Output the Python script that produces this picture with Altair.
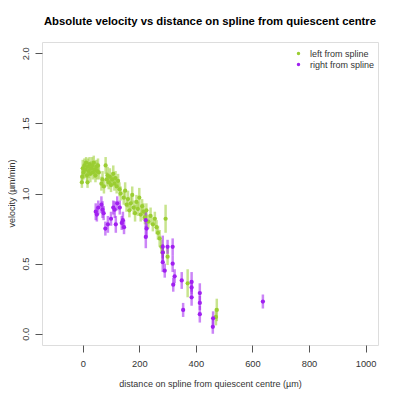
import altair as alt
import pandas as pd

# --- data ---
left_d = [0, 3, 6, 9, 12, 15, 18, 21, 24, 27, 30, 33, 36, 39, 42, 45, 48, 51, 54, 57,
          -3, 17, -2, 66, 70, 75, 81, 85, 88, 92, 96, 100, 104, 108, 112, 116, 120, 125, 130, 134,
          145, 150, 155, 160, 165, 170, 175, 180, 185, 190, 195, 200, 205, 210, 215, 220, 225,
          232, 240, 248, 255, 261, 266, 272, 278, 283, 293, 300, 371, 474, 471]
left_v = [1.18, 1.15, 1.20, 1.17, 1.22, 1.13, 1.19, 1.16, 1.21, 1.14, 1.18, 1.20, 1.15, 1.22, 1.17, 1.13, 1.19, 1.16, 1.20, 1.15,
          1.08, 1.08, 1.12, 1.07, 1.10, 1.05, 1.20, 1.10, 1.13, 1.08, 1.12, 1.06, 1.10, 1.14, 1.07, 1.11, 1.05, 1.09, 1.03, 1.00,
          0.97, 1.02, 0.92, 0.96, 0.88, 0.93, 0.99, 0.90, 0.86, 0.94, 0.89, 0.97, 0.85, 0.91, 0.87, 0.83, 0.88,
          0.80, 0.84, 0.78, 0.82, 0.76, 0.72, 0.68, 0.62, 0.58, 0.82, 0.55, 0.36, 0.17, 0.12]
left_e = [0.06, 0.05, 0.05, 0.06, 0.04, 0.05, 0.06, 0.05, 0.05, 0.06, 0.05, 0.06, 0.05, 0.05, 0.06, 0.05, 0.05, 0.06, 0.05, 0.05,
          0.04, 0.04, 0.05, 0.05, 0.06, 0.05, 0.06, 0.05, 0.06, 0.05, 0.06, 0.05, 0.05, 0.06, 0.05, 0.05, 0.05, 0.05, 0.05, 0.05,
          0.05, 0.06, 0.05, 0.06, 0.05, 0.05, 0.06, 0.05, 0.06, 0.05, 0.05, 0.07, 0.05, 0.05, 0.06, 0.05, 0.05,
          0.05, 0.06, 0.05, 0.05, 0.05, 0.05, 0.06, 0.05, 0.05, 0.10, 0.06, 0.10, 0.08, 0.06]

right_d = [46, 50, 55, 66, 70, 74, 80, 89, 100, 108, 113, 117, 122, 131, 138, 142, 146,
           223, 223, 226, 283, 283, 283, 290, 318, 318, 325, 320, 350, 385, 385, 385,
           414, 414, 414, 461, 460, 637, 355, 300]
right_v = [0.87, 0.85, 0.90, 0.92, 0.885, 0.86, 0.75, 0.78, 0.82, 0.90, 0.885, 0.78, 0.93, 0.90, 0.79, 0.81, 0.76,
           0.81, 0.69, 0.75, 0.62, 0.58, 0.51, 0.45, 0.62, 0.50, 0.41, 0.35, 0.38, 0.37, 0.33, 0.26,
           0.29, 0.22, 0.14, 0.11, 0.05, 0.23, 0.17, 0.62]
right_e = [0.06, 0.05, 0.05, 0.06, 0.06, 0.05, 0.05, 0.06, 0.05, 0.05, 0.06, 0.06, 0.05, 0.05, 0.05, 0.06, 0.05,
           0.07, 0.08, 0.06, 0.08, 0.06, 0.07, 0.05, 0.06, 0.06, 0.05, 0.05, 0.06, 0.07, 0.05, 0.06,
           0.07, 0.05, 0.06, 0.05, 0.05, 0.05, 0.05, 0.05]

series_names = ["left from spline", "right from spline"]
series_colors = ["#9ACD32", "#A020F0"]
x_ticks = [0, 200, 400, 600, 800, 1000]
y_ticks = [0.0, 0.5, 1.0, 1.5, 2.0]

rows = []
for d, v, e in zip(left_d, left_v, left_e):
    rows.append({"series": series_names[0], "d": d, "v": v, "lo": v - e, "hi": v + e})
for d, v, e in zip(right_d, right_v, right_e):
    rows.append({"series": series_names[1], "d": d, "v": v, "lo": v - e, "hi": v + e})
df = pd.DataFrame(rows)

FONT = "Liberation Sans"
FS = 9.3
xscale = alt.Scale(domain=[-144, 1044], nice=False, zero=False)
yscale = alt.Scale(domain=[-0.08, 2.08], nice=False, zero=False)
cscale = alt.Scale(domain=series_names, range=series_colors)

legend = alt.Legend(title=None, orient="none", legendX=252, legendY=7,
                    symbolType="circle", symbolSize=12, labelFontSize=9,
                    labelFont=FONT, labelColor="#333", rowPadding=1,
                    labelOffset=7, padding=0, symbolStrokeWidth=0, symbolOpacity=1)

xenc = alt.X("d:Q", scale=xscale,
             axis=alt.Axis(values=x_ticks, format="d",
                           title="distance on spline from quiescent centre (µm)",
                           grid=False, domain=False, tickSize=7, tickColor="#555",
                           labelPadding=7, titlePadding=11, labelFontSize=FS, titleFontSize=9,
                           labelColor="#333", titleColor="#333", titleFontWeight="normal",
                           labelFont=FONT, titleFont=FONT))
yaxis = alt.Axis(values=y_ticks, format=".1f", title="velocity (µm/min)",
                 grid=False, domain=False, tickSize=7, tickColor="#555",
                 labelAngle=270, labelAlign="center", labelBaseline="bottom",
                 labelPadding=5, labelFontSize=FS, titleFontSize=9,
                 titleX=-31, titleY=151, titleAngle=270, titleAlign="center",
                 titleBaseline="middle",
                 labelColor="#333", titleColor="#333", titleFontWeight="normal",
                 labelFont=FONT, titleFont=FONT)

bars = alt.Chart(df).mark_rule(strokeWidth=2.5, opacity=0.55).encode(
    x=xenc,
    y=alt.Y("lo:Q", scale=yscale, axis=yaxis),
    y2="hi:Q",
    color=alt.Color("series:N", scale=cscale, legend=legend),
)

pts = alt.Chart(df).mark_circle(size=18, opacity=1).encode(
    x=alt.X("d:Q", scale=xscale),
    y=alt.Y("v:Q", scale=yscale),
    color=alt.Color("series:N", scale=cscale, legend=legend),
)

chart = alt.layer(bars, pts).properties(
    width=336, height=303,
    title=alt.Title("Absolute velocity vs distance on spline from quiescent centre",
                    font=FONT, fontSize=11.3, fontWeight="bold", color="#000", offset=15,
                    anchor="middle"),
    autosize=alt.AutoSizeParams(type="none"),
    padding={"left": 34, "top": 34, "right": 14, "bottom": 46},
).configure_view(stroke="#555", strokeWidth=1).configure(background="white")

chart.save("out.html", embed_options={"renderer": "svg", "actions": False})
